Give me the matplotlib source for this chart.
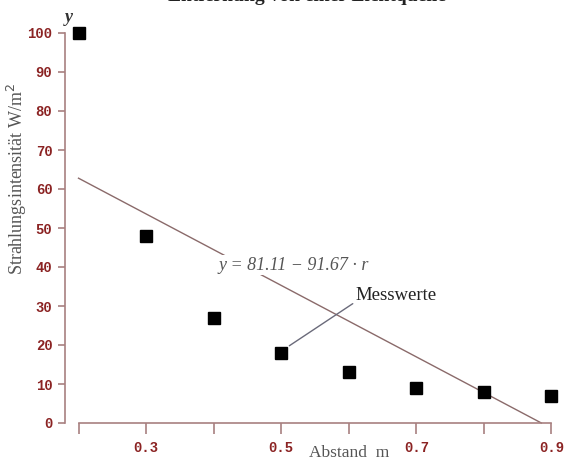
import matplotlib
matplotlib.use("Agg")
import matplotlib.pyplot as plt

# Data
distances = [0.2, 0.3, 0.4, 0.5, 0.6, 0.7, 0.8, 0.9]
intensities = [100, 48, 27, 18, 13, 9, 8, 7]
fit_x = [0.2, 0.885]
fit_y = [62.77, 0.0]
x_ticks = [0.2, 0.3, 0.4, 0.5, 0.6, 0.7, 0.8, 0.9]
x_tick_labels = ["", "0.3", "", "0.5", "", "0.7", "", "0.9"]
y_ticks = [0, 10, 20, 30, 40, 50, 60, 70, 80, 90, 100]

W, H = 566, 457
fig = plt.figure(figsize=(W / 100, H / 100), dpi=100)

# axes geometry in pixels
left_px, right_px = 65, 565
ylo, yhi = -2, 104
top_px = 33 - 4 * 3.9
bot_px = 423 + 2 * 3.9
ax = fig.add_axes([left_px / W, 1 - bot_px / H, (right_px - left_px) / W, (bot_px - top_px) / H])
ax.set_xlim(0.18, 0.92)
ax.set_ylim(ylo, yhi)

spine_col = "#a88080"
tick_col = "#8b2323"
line_col = "#8a6a6a"

for s in ["top", "right"]:
    ax.spines[s].set_visible(False)
ax.spines["left"].set_position(("axes", 0))
ax.spines["left"].set_bounds(0, 100)
ax.spines["bottom"].set_position(("data", 0))
ax.spines["bottom"].set_bounds(0.2, 0.9)
for s in ["left", "bottom"]:
    ax.spines[s].set_color(spine_col)
    ax.spines[s].set_linewidth(1.2)

ax.set_xticks(x_ticks)
ax.set_xticklabels(x_tick_labels)
ax.set_yticks(y_ticks)
ax.tick_params(axis="both", colors=spine_col, width=1.2, labelcolor=tick_col)
ax.tick_params(axis="y", length=5, pad=4)
ax.tick_params(axis="x", length=8, pad=5)
for lab in ax.get_xticklabels() + ax.get_yticklabels():
    lab.set_fontfamily("Liberation Mono")
    lab.set_fontweight("bold")
    lab.set_fontsize(10)

# regression line
ax.plot(fit_x, fit_y, color=line_col, lw=1.0, zorder=2)

# measurements
ax.plot(distances, intensities, "s", color="black", markersize=8, zorder=4)

# equation label
ax.text(0.518, 40.5, "y = 81.11 \u2212 91.67 \u00b7 r", fontsize=13, color="#555555",
        ha="center", va="center", family="Liberation Serif", fontstyle="italic",
        bbox=dict(facecolor="white", edgecolor="none", pad=1.0), zorder=3)

# Messwerte annotation
ax.annotate("Messwerte", xy=(0.512, 19.8), xytext=(0.610, 32.6),
            fontsize=13.5, family="Liberation Serif", color="#222222",
            ha="left", va="center",
            arrowprops=dict(arrowstyle="-", color="#6a6a7a", lw=1.0,
                            relpos=(0.0, 0.15), shrinkA=0, shrinkB=0), zorder=5)

# labels
fig.text(17 / W, 1 - 179 / H, "Strahlungsintensität W/m$^2$", rotation=90, fontsize=13,
         family="Liberation Serif", color="#555555", ha="center", va="center")
fig.text(69 / W, 1 - 18 / H, "y", fontsize=13, family="Liberation Serif",
         fontstyle="italic", fontweight="bold", color="#333333", ha="center", va="center")
fig.text(349 / W, 1 - 453 / H, "Abstand  m", fontsize=12.5, family="Liberation Serif",
         color="#555555", ha="center", va="center")
fig.text(307 / W, 1 - 5 / H, "Entfernung von einer Lichtquelle", fontsize=14,
         family="Liberation Serif", fontweight="bold", color="#222222",
         ha="center", va="bottom")

fig.savefig("out.png", dpi=100)
